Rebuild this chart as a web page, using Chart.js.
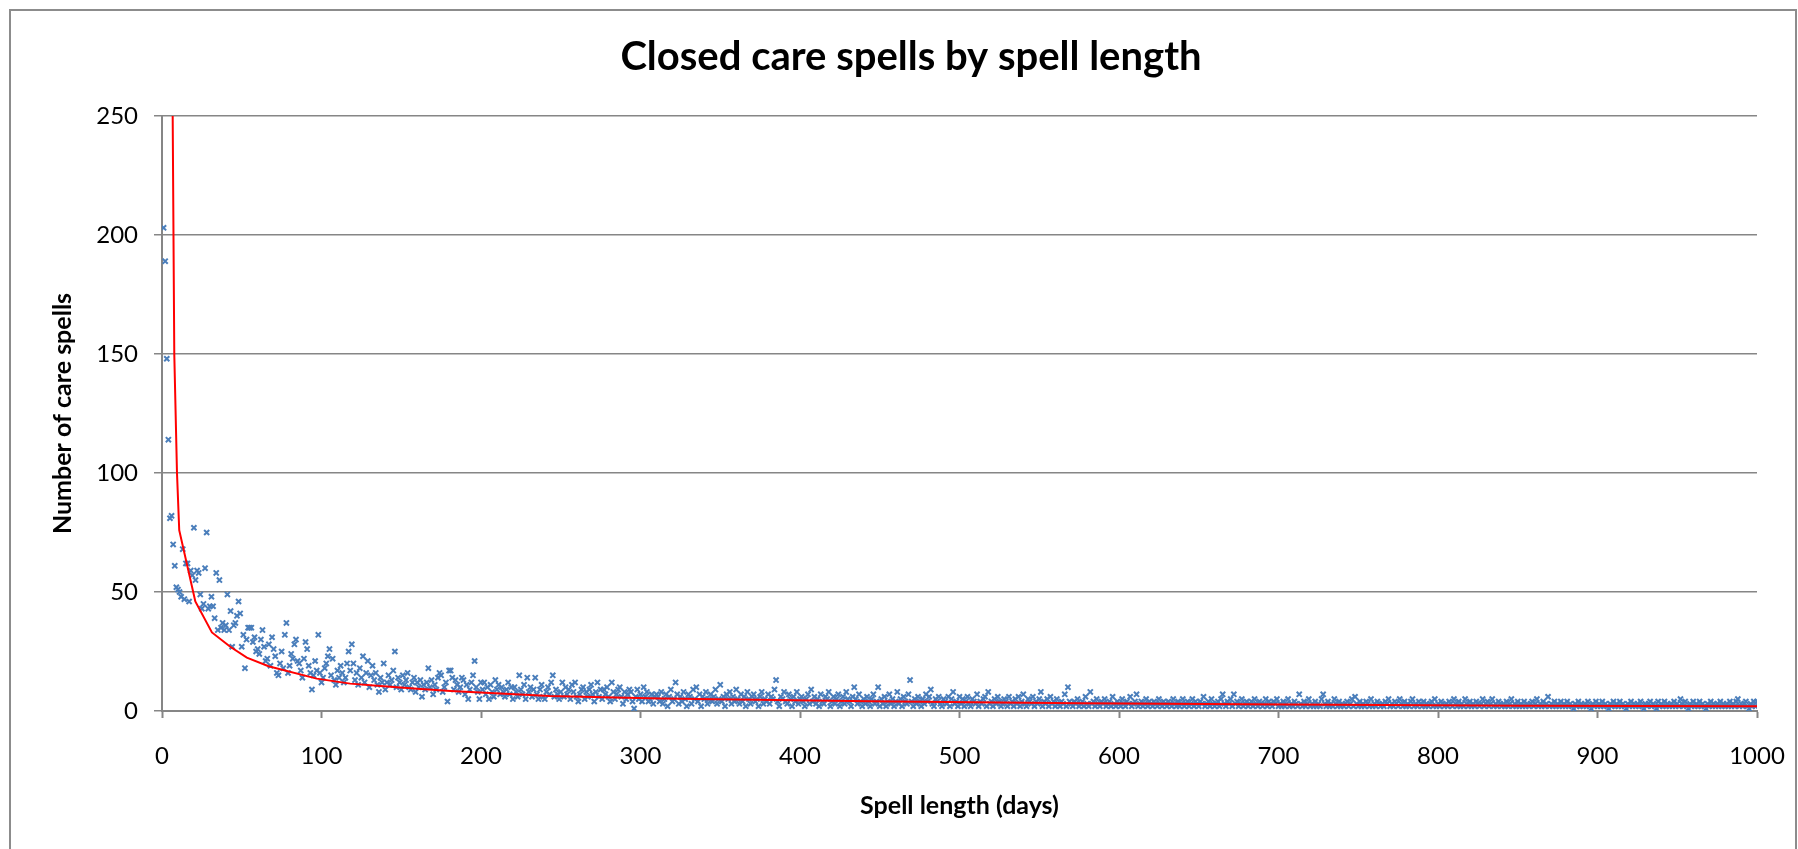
<!DOCTYPE html>
<html>
<head>
<meta charset="utf-8">
<script src="https://cdn.jsdelivr.net/npm/chart.js@4.4.1/dist/chart.umd.min.js"></script>
<style>
  html, body { margin: 0; padding: 0; background: #fff; }
  canvas { display: block; }
</style>
</head>
<body>
<canvas id="spellChart" width="1798" height="849"></canvas>
<script>
// number of closed care spells for each spell length, day 1 .. 1000
const firstDay = 1
const counts = [
  203,189,148,114,81,82,70,61,52,51, 50,48,68,47,62,62,46,59,57,77,
  55,59,58,49,43,45,60,75,43,44, 48,44,39,58,34,55,35,37,34,36,
  49,34,42,27,36,37,40,46,41,27, 32,18,30,35,35,
  35,29,31,25,26, 24,30,34,27,21,22,28,19,31,26, 23,16,15,20,25,18,32,37,16,19,
  24,22,28,30,21,20,17,14,22,29, 26,19,16,9,15,21,17,32,16,12,
  14,18,20,23,26,15,22,13,11,17, 14,19,16,12,14,20,25,17,28,20,
  13,16,11,18,14,23,12,16,21,10, 15,19,13,16,11,8,14,12,20,9,
  12,15,11,13,17,25,10,14,12,9, 15,11,13,16,10,9,12,14,8,12,
  10,13,6,11,9,12,18,10,13,7, 11,9,14,16,15,8,10,12,4,17,
  17,14,9,13,11,8,10,14,13,7, 11,5,9,12,15,21,10,8,5,12,
  9,12,7,10,5,11,8,6,13,9, 11,7,10,8,6,9,12,7,10,5,
  10,8,6,15,9,7,11,5,14,8, 10,6,9,14,7,5,9,11,6,5,
  8,10,7,12,15,6,9,7,5,8, 12,6,10,7,9,5,11,8,12,6,
  4,7,9,10,5,8,6,9,11,7, 4,8,12,6,9,5,9,7,10,6,
  4,12,8,5,7,9,10,6,3,8, 5,7,9,8,4,1,6,9,5,7,
  4,10,6,8,4,5,7,3,6,7,
  6,4,8,3,5,7,2,6,9,4, 5,12,7,3,6,4,8,5,2,7, 6,3,9,5,10,4,7,2,6,5,
  8,3,5,7,4,6,9,3,5,11, 4,6,2,7,5,8,3,6,4,9, 5,3,7,4,6,2,8,5,3,6,
  7,4,5,2,6,8,3,5,4,7, 3,6,5,9,13,4,2,6,5,8, 4,3,7,5,2,6,4,8,3,5,
  6,4,2,5,7,3,9,4,6,3, 5,2,7,4,3,6,5,8,2,4, 6,3,5,7,2,4,6,3,8,5,
  4,2,6,10,5,3,7,4,2,5,
  3,6,4,2,5,7,3,4,10,2, 5,3,6,2,4,7,3,5,2,4, 8,3,5,2,6,4,3,7,13,4,
  2,5,3,6,4,2,5,3,7,4, 6,9,3,2,5,4,6,3,2,5, 4,3,6,2,5,8,3,4,2,6,
  3,5,2,4,6,3,2,5,4,3, 7,2,4,3,5,6,2,8,3,4, 2,5,3,6,4,2,3,5,4,2,
  6,3,4,2,5,3,6,2,4,7, 3,2,5,4,3,6,2,4,3,5, 8,2,4,3,5,2,6,3,4,2,
  5,3,2,4,3,7,2,10,4,3,
  2,4,3,5,2,3,4,2,6,3, 2,8,3,4,2,5,3,2,4,3, 5,2,3,4,2,6,3,2,4,3,
  2,5,3,2,4,3,6,2,3,4, 7,2,3,4,2,3,5,2,4,3, 2,4,3,2,5,3,2,4,3,2,
  4,3,2,5,3,2,4,2,3,5, 2,3,4,2,3,5,2,4,3,2, 4,3,6,2,3,4,2,5,3,2,
  3,4,2,5,7,3,2,4,3,5, 2,7,3,4,2,3,5,2,3,4, 2,3,4,2,5,3,2,4,3,2,
  3,5,2,4,3,2,4,3,5,2,
  3,2,4,2,3,5,2,3,2,4, 3,2,7,3,2,4,2,3,5,2, 3,2,4,2,3,2,5,7,3,2,
  4,2,3,2,5,3,2,4,2,3, 2,3,4,2,3,5,2,6,3,2, 4,2,3,2,4,3,2,5,2,3,
  2,4,3,2,3,2,4,3,5,2, 3,2,4,3,2,5,3,2,4,2, 3,2,4,5,2,3,2,4,3,2,
  4,2,3,2,3,4,2,5,2,3, 2,4,3,2,3,2,4,3,2,5, 3,2,4,2,3,2,5,3,2,4,
  2,3,2,4,3,2,3,5,2,3, 4,2,3,5,2,3,2,4,3,2, 3,2,4,2,3,5,2,3,2,4,
  2,3,2,4,2,3,2,3,4,2, 3,5,2,3,2,4,2,3,6,2, 3,2,4,2,3,2,4,2,3,2,
  4,2,3,2,1,3,2,4,2,3, 2,3,2,4,2,1,3,2,4,2, 3,2,4,2,3,2,1,3,2,4,
  2,3,2,4,2,3,2,1,3,2, 4,2,3,2,3,2,4,2,1,3, 2,3,4,2,3,2,1,4,2,3,
  2,4,2,3,2,3,2,4,2,3, 2,5,3,2,4,2,1,3,2,4, 2,3,2,4,2,3,2,1,3,2,
  4,2,3,2,3,2,4,2,3,2, 3,2,4,2,3,2,4,5,2,3, 2,3,4,2,1,3,2,4,2,4
]

// power trend line
const trendDays = [6, 6.7, 7.7, 9.4, 10.8, 20.9, 31.3, 42.8, 53.2, 66.8, 97, 118, 139, 160, 181, 243, 312, 444, 575, 707, 852, 1000]
const trendValues = [330, 250, 150, 100, 76, 46, 33, 27, 22.4, 18.8, 13.6, 11.5, 10.4, 9.4, 8.4, 6.3, 5.2, 4.1, 3.3, 2.7, 2.2, 2.0]

const chartTitle = 'Closed care spells by spell length'
const xTitle = 'Spell length (days)'
const yTitle = 'Number of care spells'

const FONT = 'Lato, "Open Sans", sans-serif'
const GRID = '#868686'

const points = counts.map((c, i) => ({ x: firstDay + i, y: c }))
const trend = trendDays.map((d, i) => ({ x: d, y: trendValues[i] }))

// white background, outer chart border and the title (centred on the chart frame)
const frame = {
  id: 'frame',
  beforeDraw(chart) {
    const ctx = chart.ctx
    ctx.save()
    ctx.fillStyle = '#fff'
    ctx.fillRect(0, 0, chart.width, chart.height)
    ctx.strokeStyle = '#8c8c8c'
    ctx.lineWidth = 2
    ctx.strokeRect(10, 10, chart.width - 12, chart.height + 20)
    ctx.fillStyle = '#000'
    ctx.font = 'bold 40px ' + FONT
    ctx.textAlign = 'center'
    ctx.textBaseline = 'middle'
    ctx.fillText(chartTitle, 911, 57)
    ctx.restore()
  },
}

new Chart(document.getElementById('spellChart'), {
  type: 'scatter',
  data: {
    datasets: [
      {
        label: 'Trend',
        data: trend,
        showLine: true,
        borderColor: '#ff0000',
        borderWidth: 2,
        pointRadius: 0,
        tension: 0,
        order: 0,
      },
      {
        label: 'Spells',
        data: points,
        pointStyle: 'crossRot',
        pointRadius: 3.6,
        borderColor: '#4a7ebb',
        backgroundColor: '#4a7ebb',
        pointBorderWidth: 2,
        order: 1,
      },
    ],
  },
  options: {
    responsive: false,
    animation: false,
    devicePixelRatio: 1,
    layout: { padding: { left: 0, right: 41, top: 116, bottom: 0 } },
    plugins: {
      legend: { display: false },
      tooltip: { enabled: false },
      title: { display: false },
    },
    scales: {
      x: {
        type: 'linear',
        min: 0,
        max: 1000,
        ticks: {
          stepSize: 100,
          color: '#000',
          padding: 24,
          font: { family: FONT, size: 24 },
          callback: (v) => String(v),
        },
        grid: { drawOnChartArea: false, drawTicks: true, tickLength: 7, tickColor: GRID, tickWidth: 2 },
        border: { color: GRID, width: 2 },
        title: {
          display: true,
          text: xTitle,
          color: '#000',
          font: { family: FONT, size: 25, weight: 'bold' },
          padding: { top: 0, bottom: 28 },
        },
        afterFit(scale) {
          scale.height = 138
          scale.paddingLeft = 0
          scale.paddingRight = 0
        },
      },
      y: {
        min: 0,
        max: 250,
        ticks: { stepSize: 50, color: '#000', padding: 16, font: { family: FONT, size: 24 } },
        grid: { color: GRID, lineWidth: 1.5, tickLength: 8, tickColor: GRID },
        border: { color: GRID, width: 2 },
        title: {
          display: true,
          text: yTitle,
          color: '#000',
          font: { family: FONT, size: 25, weight: 'bold' },
          padding: { top: 48, bottom: 0 },
        },
        afterFit(scale) { scale.width = 162 },
      },
    },
  },
  plugins: [frame],
})
</script>
</body>
</html>
